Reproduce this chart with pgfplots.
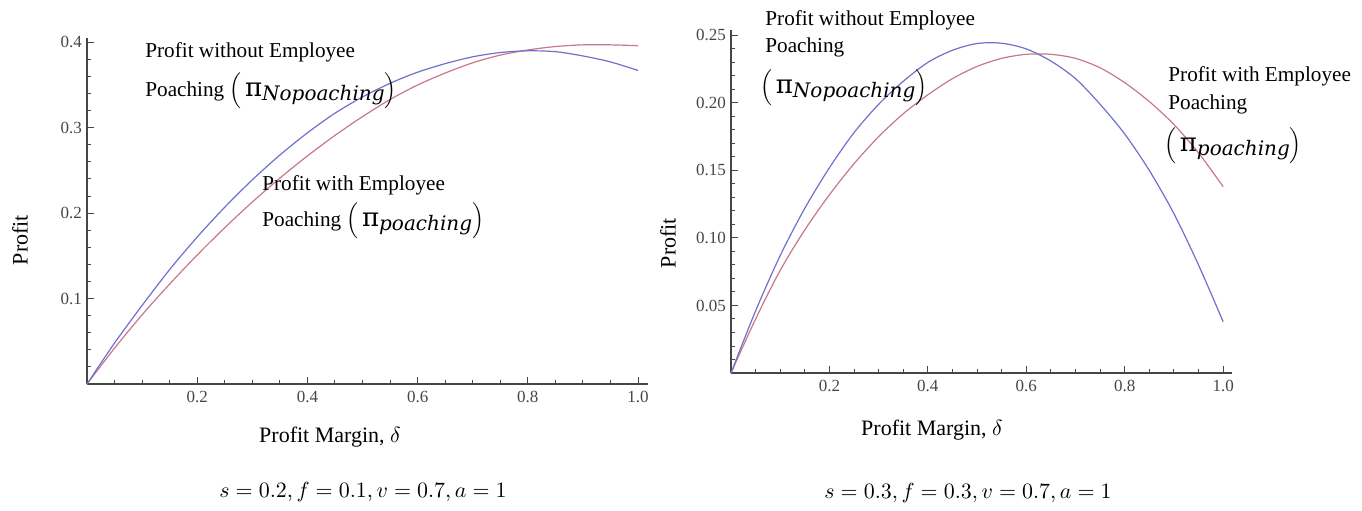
\documentclass[border=0pt]{standalone}
\usepackage{fontspec}
\setmainfont{Liberation Serif}
\newfontfamily\subfont{DejaVu Serif}
\usepackage{pgfplots}
\usepackage{pgfplotstable}
\pgfplotsset{compat=1.18}

\definecolor{nopoach}{RGB}{112,112,204}
\definecolor{poach}{RGB}{200,120,138}
\definecolor{axisgray}{RGB}{70,70,70}

% s=0.2, f=0.1, v=0.7, a=1
\pgfplotstableread{
d     blue   red
0.00  0.000  0.000
0.05  0.048  0.042
0.10  0.092  0.081
0.15  0.134  0.117
0.20  0.172  0.151
0.25  0.207  0.183
0.30  0.239  0.213
0.35  0.268  0.241
0.40  0.294  0.267
0.45  0.317  0.291
0.50  0.336  0.313
0.55  0.352  0.333
0.60  0.365  0.350
0.65  0.375  0.364
0.70  0.383  0.376
0.75  0.388  0.385
0.80  0.390  0.391
0.85  0.389  0.395
0.90  0.384  0.397
0.95  0.377  0.397
1.00  0.367  0.396
}\leftdata

% s=0.3, f=0.3, v=0.7, a=1
\pgfplotstableread{
d     blue   red
0.00  0.000  0.000
0.05  0.046  0.040
0.10  0.087  0.076
0.15  0.122  0.106
0.20  0.152  0.132
0.25  0.178  0.155
0.30  0.199  0.175
0.35  0.216  0.192
0.40  0.230  0.206
0.45  0.239  0.218
0.50  0.244  0.227
0.55  0.2442 0.233
0.60  0.240  0.236
0.65  0.231  0.236
0.70  0.218  0.233
0.75  0.199  0.226
0.80  0.177  0.215
0.85  0.150  0.201
0.90  0.118  0.184
0.95  0.080  0.163
1.00  0.038  0.138
}\rightdata

\pgfplotsset{
  mma/.style={
    scale only axis, axis lines=left, clip=false,
    axis line style={-, axisgray, line width=0.6pt},
    tick align=inside, major tick length=3.5pt, minor tick length=2pt,
    every tick/.style={axisgray, line width=0.5pt},
    tick label style={font=\fontsize{8.5}{10}\selectfont, text=axisgray},
    yticklabel style={xshift=1pt},
    /pgf/number format/assume math mode=true,
    xmin=0, xmax=1.018, ymin=0,
    xtick={0.2,0.4,0.6,0.8,1.0},
    minor xtick={0.05,0.1,0.15,0.25,0.3,0.35,0.45,0.5,0.55,0.65,0.7,0.75,0.85,0.9,0.95},
    xticklabel style={/pgf/number format/.cd, fixed, fixed zerofill, precision=1},
  },
  blueline/.style={nopoach, line width=0.6pt, smooth},
  redline/.style={poach, line width=0.6pt, smooth},
}

\newcommand{\annot}{\fontsize{10.6}{13}\selectfont}
\newcommand{\pilabel}[1]{$\Big($\,{\subfont\fontsize{13}{13}\selectfont π}\raisebox{-0.45ex}{\subfont\fontsize{10}{10}\selectfont\itshape #1}$\Big)$}

\begin{document}
\begin{tikzpicture}
\useasboundingbox (0,0) rectangle (681pt,-255pt);

\begin{axis}[mma, at={(43.5pt,-192pt)}, anchor=south west,
  width=280.5pt, height=173pt, ymax=0.405,
  ytick={0.1,0.2,0.3,0.4},
  minor ytick={0.02,0.04,0.06,0.08,0.12,0.14,0.16,0.18,0.22,0.24,0.26,0.28,0.32,0.34,0.36,0.38},
  yticklabel style={/pgf/number format/.cd, fixed, fixed zerofill, precision=1},
]
\addplot[redline] table[x=d, y=red] {\leftdata};
\addplot[blueline] table[x=d, y=blue] {\leftdata};
\end{axis}

\begin{axis}[mma, at={(365.5pt,-186.5pt)}, anchor=south west,
  width=250.5pt, height=171.5pt, ymax=0.254,
  ytick={0.05,0.10,0.15,0.20,0.25},
  minor ytick={0.01,0.02,0.03,0.04,0.06,0.07,0.08,0.09,0.11,0.12,0.13,0.14,0.16,0.17,0.18,0.19,0.21,0.22,0.23,0.24},
  yticklabel style={/pgf/number format/.cd, fixed, fixed zerofill, precision=2},
]
\addplot[redline] table[x=d, y=red] {\rightdata};
\addplot[blueline] table[x=d, y=blue] {\rightdata};
\end{axis}

% left panel texts
\node[rotate=90, font=\fontsize{11}{13}\selectfont] at (10pt,-120pt) {Profit};
\node[font=\fontsize{11}{13}\selectfont] at (165pt,-218.5pt) {Profit Margin, $\delta$};
\node[font=\fontsize{11}{13}\selectfont] at (181.5pt,-246pt) {$s=0.2, f=0.1, v=0.7, a=1$};
\node[anchor=west, font=\annot, inner sep=0pt] at (72.5pt,-26pt) {Profit without Employee};
\node[anchor=west, font=\annot, inner sep=0pt] at (72.5pt,-45.5pt) {Poaching \pilabel{Nopoaching}};
\node[anchor=west, font=\annot, inner sep=0pt] at (131pt,-92.5pt) {Profit with Employee};
\node[anchor=west, font=\annot, inner sep=0pt] at (131pt,-110.5pt) {Poaching \pilabel{poaching}};

% right panel texts
\node[rotate=90, font=\fontsize{11}{13}\selectfont] at (334pt,-121.5pt) {Profit};
\node[font=\fontsize{11}{13}\selectfont] at (466pt,-215pt) {Profit Margin, $\delta$};
\node[font=\fontsize{11}{13}\selectfont] at (484pt,-246.5pt) {$s=0.3, f=0.3, v=0.7, a=1$};
\node[anchor=west, font=\annot, inner sep=0pt] at (382.5pt,-10pt) {Profit without Employee};
\node[anchor=west, font=\annot, inner sep=0pt] at (382.5pt,-23.5pt) {Poaching};
\node[anchor=west, font=\annot, inner sep=0pt] at (380pt,-44pt) {\pilabel{Nopoaching}};
\node[anchor=west, font=\annot, inner sep=0pt] at (584pt,-38pt) {Profit with Employee};
\node[anchor=west, font=\annot, inner sep=0pt] at (584pt,-52pt) {Poaching};
\node[anchor=west, font=\annot, inner sep=0pt] at (582pt,-73pt) {\pilabel{poaching}};
\end{tikzpicture}
\end{document}
